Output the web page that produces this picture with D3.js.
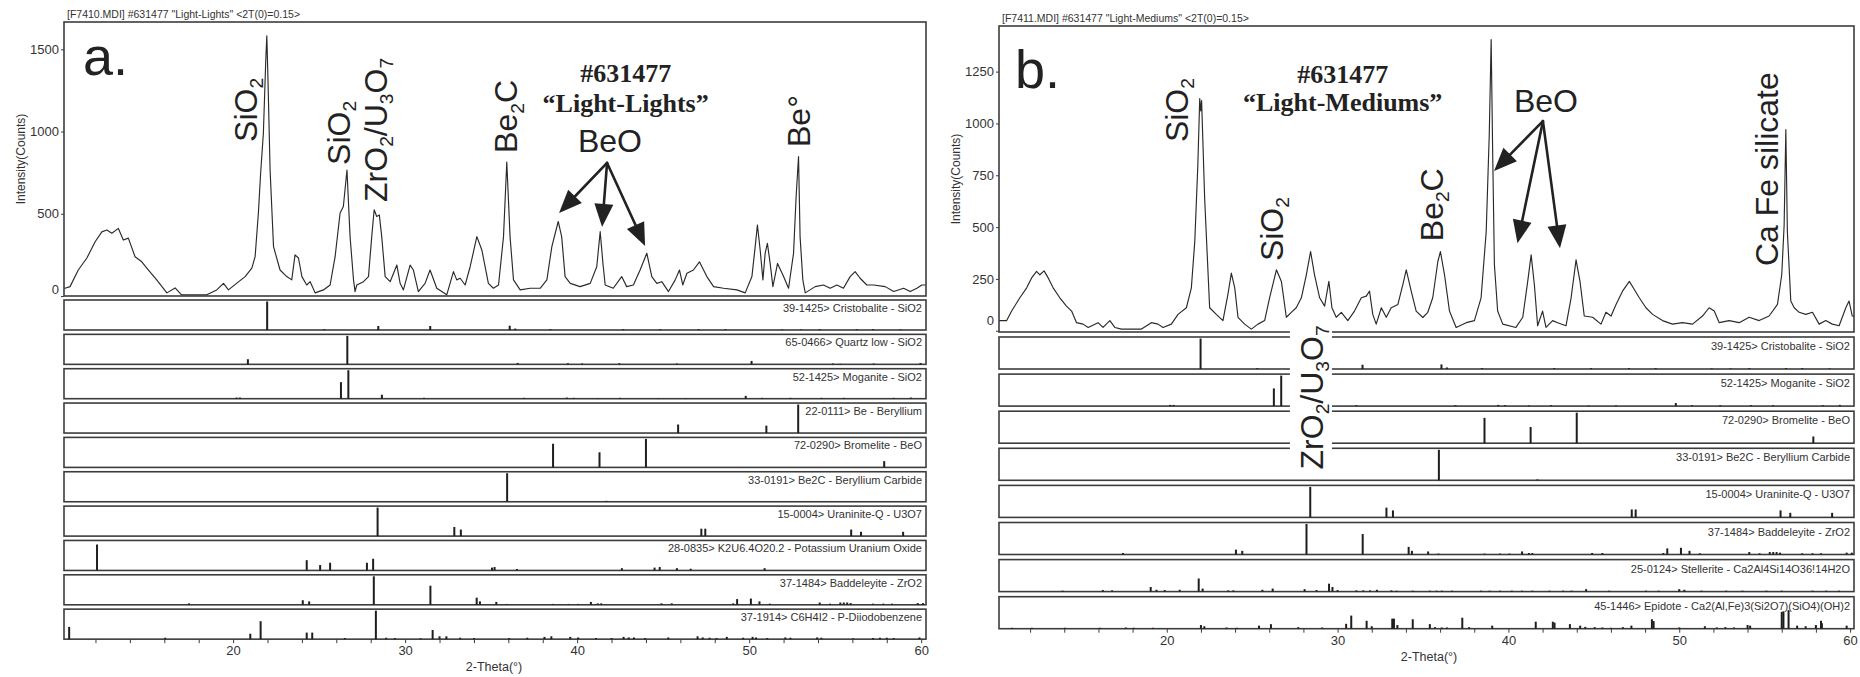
<!DOCTYPE html>
<html>
<head>
<meta charset="utf-8">
<script src="https://cdn.jsdelivr.net/npm/d3@7"></script>
<style>
  body { margin: 0; background: #ffffff; }
  svg { display: block; }
</style>
</head>
<body>
<svg id="fig" width="1860" height="677"></svg>
<script>
// ---------------------------------------------------------------------------
// Measured XRD scans: [2-theta (deg), intensity (counts)]
// ---------------------------------------------------------------------------
const lightLightsScan = [
  [10.17,48],[10.23,47],[10.52,57],[11.0,158],[11.5,231],[11.98,330],[12.37,390],[12.66,401],[12.95,382],
  [13.33,411],[13.62,340],[13.91,352],[14.3,239],[14.69,208],[15.08,158],[15.56,98],[16.15,19],[16.63,49],
  [17.0,7],[18.47,7],[19.05,37],[19.44,77],[19.73,37],[20.2,77],[20.7,118],[21.09,170],[21.28,239],
  [21.47,505],[21.6,745],[21.76,990],[21.9,1435],[21.96,1582],[22.02,1348],[22.15,767],[22.35,300],
  [22.73,158],[23.12,118],[23.41,98],[23.6,250],[23.8,231],[24.0,118],[24.28,67],[24.48,87],[24.77,19],
  [25.25,37],[25.64,67],[25.93,239],[26.22,505],[26.41,544],[26.62,766],[26.8,361],[27.0,98],[27.09,27],
  [27.19,67],[27.58,87],[27.87,118],[28.06,361],[28.2,524],[28.35,483],[28.5,493],[28.64,361],[28.84,118],
  [29.13,87],[29.52,188],[29.71,77],[29.9,37],[30.29,188],[30.48,158],[30.77,27],[31.16,77],[31.45,158],
  [31.84,47],[32.42,7],[32.81,148],[33.0,98],[33.2,108],[33.49,67],[33.78,178],[34.17,361],[34.46,280],
  [34.84,77],[35.13,47],[35.43,67],[35.72,361],[35.91,815],[36.1,361],[36.3,98],[36.69,37],[37.27,47],
  [37.85,47],[38.24,98],[38.53,300],[38.9,453],[39.1,361],[39.3,118],[39.6,77],[40.17,57],[40.76,77],
  [41.14,178],[41.34,391],[41.5,198],[41.63,67],[42.1,47],[42.59,118],[42.88,57],[43.27,67],[43.66,158],
  [44.05,260],[44.34,118],[44.63,77],[44.92,87],[45.31,27],[45.7,98],[45.95,158],[46.14,67],[46.38,138],
  [46.76,158],[47.11,208],[47.54,118],[47.93,57],[48.51,47],[49.29,37],[49.77,19],[50.16,118],[50.35,300],
  [50.48,432],[50.64,280],[50.8,98],[50.93,260],[51.06,320],[51.22,198],[51.38,57],[51.65,198],[52.0,118],
  [52.29,47],[52.58,260],[52.73,604],[52.87,848],[52.96,361],[53.12,98],[53.26,19],[53.84,57],[54.32,67],
  [54.71,47],[55.1,67],[55.48,47],[55.87,118],[56.16,148],[56.45,108],[56.84,67],[57.23,67],[57.91,57],
  [58.4,27],[58.98,47],[59.36,27],[59.75,47],[60.04,67],[60.28,67]
];

const lightMediumsScan = [
  [10.18,49],[10.63,49],[10.92,95],[11.4,159],[11.8,207],[12.09,255],[12.38,286],[12.57,270],[12.82,289],
  [13.06,255],[13.35,207],[13.74,159],[14.13,119],[14.43,95],[14.72,39],[15.1,32],[15.4,16],[15.98,39],
  [16.27,16],[16.67,49],[16.96,16],[17.35,8],[18.52,8],[19.1,39],[19.49,32],[19.78,16],[20.27,32],
  [20.66,79],[21.15,111],[21.44,207],[21.64,430],[21.82,800],[21.93,1120],[21.99,1060],[22.04,1110],
  [22.22,637],[22.51,111],[22.9,79],[23.29,49],[23.58,175],[23.78,278],[23.98,207],[24.17,65],[24.56,32],
  [24.95,8],[25.34,32],[25.73,49],[26.02,159],[26.42,294],[26.71,238],[27.0,65],[27.29,89],[27.58,111],
  [27.88,159],[28.17,270],[28.42,382],[28.65,270],[28.95,159],[29.24,119],[29.49,238],[29.67,111],
  [29.92,65],[30.22,89],[30.6,49],[30.99,95],[31.39,159],[31.68,167],[31.87,191],[32.06,79],[32.26,32],
  [32.56,111],[32.85,65],[33.14,111],[33.53,127],[33.82,222],[34.02,294],[34.31,191],[34.6,95],[34.99,64],
  [35.28,89],[35.57,159],[35.87,334],[36.02,382],[36.26,270],[36.55,95],[36.94,16],[37.53,39],[38.01,49],
  [38.4,159],[38.7,478],[38.88,950],[38.99,1405],[39.08,850],[39.18,318],[39.37,95],[39.67,32],[40.44,16],
  [40.84,65],[41.13,238],[41.33,366],[41.52,222],[41.71,24],[42.0,95],[42.2,16],[42.59,49],[42.88,39],
  [43.37,24],[43.67,159],[43.96,342],[44.19,238],[44.44,71],[44.93,65],[45.42,32],[45.71,89],[46.01,71],
  [46.3,127],[46.68,191],[47.08,238],[47.37,199],[47.66,159],[48.05,111],[48.44,79],[49.02,49],[49.61,32],
  [50.19,39],[50.78,32],[51.36,71],[51.75,111],[52.05,95],[52.34,39],[52.92,49],[53.51,39],[54.09,65],
  [54.68,49],[55.26,71],[55.75,127],[56.0,270],[56.14,509],[56.24,970],[56.33,478],[56.53,143],[56.73,111],
  [57.02,89],[57.41,79],[57.8,89],[58.19,32],[58.58,49],[58.96,32],[59.36,24],[59.75,111],[59.94,143],
  [60.13,71],[60.23,69]
];

// ---------------------------------------------------------------------------
// Reference powder-diffraction cards: [2-theta (deg), relative intensity (%)]
// ---------------------------------------------------------------------------
const cristobalite = [[21.98,100],[25.3,3],[28.44,14],[31.46,14],[36.08,15],[36.4,5],[38.45,3],[42.68,3],
  [44.83,3],[47.06,3],[48.62,3],[51.9,2],[53.0,2],[54.1,3],[56.25,3],[57.2,3],[58.8,2]];
const quartzLow = [[20.86,18],[26.64,100],[36.54,5],[39.46,4],[40.29,3],[42.45,4],[45.79,3],[50.14,12],
  [54.87,3],[55.3,2],[57.24,3],[59.96,5]];
const moganite = [[20.2,4],[20.4,4],[26.27,58],[26.7,100],[28.65,14],[31.1,3],[36.9,3],[39.4,4],[39.8,3],
  [41.2,2],[42.5,3],[44.7,2],[46.3,2],[49.8,10],[50.75,3],[52.4,3],[54.2,3],[55.5,3],[58.4,3],[59.4,4]];
const beryllium = [[45.87,30],[51.0,26],[52.85,100]];
const bromelite = [[38.6,83],[41.3,53],[44.0,100],[57.85,22]];
const berylliumCarbide = [[35.93,100],[41.7,3]];
const uraninite = [[28.4,100],[32.86,32],[33.24,23],[47.22,26],[47.45,26],[55.93,23],[56.5,15],[58.95,15]];
const potassiumUraniumOxide = [[12.09,91],[24.28,36],[25.06,19],[25.64,27],[27.78,27],[28.14,41],[35.05,10],
  [35.2,12],[36.5,5],[42.6,8],[44.5,10],[44.8,12],[45.8,8],[46.6,6],[50.9,8]];
const baddeleyite = [[17.44,5],[24.05,16],[24.42,12],[28.18,100],[31.47,67],[34.16,25],[34.35,12],[35.3,10],
  [35.9,3],[38.6,3],[39.5,3],[40.06,3],[40.8,10],[41.2,5],[41.4,5],[44.9,5],[45.5,5],[49.07,5],[49.3,20],
  [50.1,22],[50.6,12],[51.2,4],[54.1,8],[54.7,4],[55.3,8],[55.5,8],[55.7,8],[55.9,6],[57.2,4],[57.8,4],
  [58.3,4],[59.8,6],[60.1,6]];
const diiodobenzene = [[10.47,43],[16.05,5],[21.0,19],[21.6,63],[24.28,23],[24.6,23],[26.5,4],[28.3,100],
  [28.9,5],[29.4,4],[30.9,3],[31.6,32],[32.0,10],[32.4,10],[33.2,5],[34.0,4],[36.05,4],[37.1,5],[38.1,8],
  [38.5,10],[39.6,8],[40.06,6],[41.1,4],[42.0,4],[42.7,8],[43.0,6],[43.3,6],[43.95,4],[45.3,6],[47.0,10],
  [47.3,6],[47.7,5],[48.1,4],[48.7,8],[49.65,5],[50.2,8],[50.4,6],[51.05,4],[52.1,6],[52.4,5],[53.95,6],
  [54.2,5],[56.05,3],[57.2,4],[57.6,5],[58.0,5],[58.4,4],[59.9,6]];
const stellerite = [[13.9,3],[16.26,5],[16.8,4],[19.06,15],[19.4,6],[19.88,5],[20.76,6],[21.87,43],[22.1,10],
  [23.6,4],[23.9,4],[25.6,6],[26.2,10],[28.07,8],[28.77,5],[29.5,26],[29.7,15],[30.0,5],[31.1,4],[31.5,4],
  [31.9,4],[32.3,6],[33.15,4],[33.45,3],[34.4,3],[35.4,3],[35.8,3],[36.1,3],[36.7,3],[38.4,3],[38.9,3],
  [39.5,3],[40.2,3],[40.8,3],[41.4,3],[42.4,3],[43.2,3],[43.7,3],[44.55,8],[45.9,3],[48.05,3],[48.8,3],
  [50.0,8],[50.3,6],[51.3,3],[52.75,3],[53.7,3],[55.1,3],[56.0,3],[57.8,3],[58.6,3],[59.35,3]];
const epidote = [[10.94,3],[12.1,3],[14.04,3],[16.08,3],[17.6,4],[18.07,3],[19.2,3],[22.0,12],[22.2,8],
  [23.5,4],[24.1,3],[25.4,10],[26.1,15],[27.7,5],[29.1,4],[30.5,16],[30.8,43],[31.7,26],[32.0,8],[33.2,33],
  [33.3,33],[33.5,12],[34.4,31],[35.4,15],[35.7,5],[36.1,4],[36.4,4],[37.3,36],[37.7,5],[39.05,10],[41.6,23],
  [42.6,23],[42.7,20],[43.6,15],[44.2,10],[44.5,6],[45.05,5],[45.5,4],[46.0,3],[46.7,5],[47.2,10],[48.4,31],
  [48.5,25],[50.0,4],[51.5,8],[52.2,4],[52.7,5],[53.2,4],[54.0,12],[54.15,10],[56.0,55],[56.1,57],[56.4,61],
  [56.9,10],[57.4,8],[58.0,12],[58.3,26],[58.35,18],[59.8,10]];

const cardLabelsA = [
  "39-1425> Cristobalite - SiO2", "65-0466> Quartz low - SiO2", "52-1425> Moganite - SiO2",
  "22-0111> Be - Beryllium", "72-0290> Bromelite - BeO", "33-0191> Be2C - Beryllium Carbide",
  "15-0004> Uraninite-Q - U3O7", "28-0835> K2U6.4O20.2 - Potassium Uranium Oxide",
  "37-1484> Baddeleyite - ZrO2", "37-1914> C6H4I2 - P-Diiodobenzene"
];
const cardLabelsB = [
  "39-1425> Cristobalite - SiO2", "52-1425> Moganite - SiO2", "72-0290> Bromelite - BeO",
  "33-0191> Be2C - Beryllium Carbide", "15-0004> Uraninite-Q - U3O7", "37-1484> Baddeleyite - ZrO2",
  "25-0124> Stellerite - Ca2Al4Si14O36!14H2O", "45-1446> Epidote - Ca2(Al,Fe)3(Si2O7)(SiO4)(OH)2"
];

// Axis ticks
const thetaTicks = d3.range(12, 61, 2);
const thetaLabels = [20, 30, 40, 50, 60];
const countTicksA = [0, 500, 1000, 1500];
const countTicksB = [0, 250, 500, 750, 1000, 1250];

// ---------------------------------------------------------------------------
// Peak annotations (placed in 2-theta / counts units)
// ---------------------------------------------------------------------------
const peakLabelsA = [
  { parts: [["SiO"], ["2", "sub"]], theta: 21.39, counts: 937 },
  { parts: [["SiO"], ["2", "sub"]], theta: 26.80, counts: 797 },
  { parts: [["ZrO"], ["2", "sub"], ["/U"], ["3", "sub"], ["O"], ["7", "sub"]], theta: 28.95, counts: 572 },
  { parts: [["Be"], ["2", "sub"], ["C"]], theta: 36.51, counts: 870 },
  { parts: [["Be°"]], theta: 53.54, counts: 906 }
];
const peakLabelsB = [
  { parts: [["SiO"], ["2", "sub"]], theta: 21.24, counts: 910 },
  { parts: [["SiO"], ["2", "sub"]], theta: 26.80, counts: 336 },
  { parts: [["Be"], ["2", "sub"], ["C"]], theta: 36.17, counts: 432 },
  { parts: [["Ca Fe silicate"]], theta: 55.78, counts: 312 },
  { parts: [["ZrO"], ["2", "sub"], ["/U"], ["3", "sub"], ["O"], ["7", "sub"]], theta: 29.15, counts: -669,
    knockout: { theta: [27.21, 29.67], counts: [20, -693] } }
];

const panelA = {
  header: "[F7410.MDI] #631477 \"Light-Lights\" <2T(0)=0.15>",
  letter: { text: "a.", theta: 11.27, counts: 1344 },
  sample: { id: "#631477", name: "\u201CLight-Lights\u201D", theta: 42.82, idCounts: 1302, nameCounts: 1119 },
  beo: { theta: 41.91, counts: 876, from: [41.74, 809], to: [[38.95, 505], [41.45, 420], [43.95, 304]] },
  left: 64, right: 926, top: 22, plotBottom: 296,
  xDomain: [10.17, 60.28], yDomain: [0, 1666], countTicks: countTicksA, zeroLift: 7,
  stripTop: 300, stripHeight: 30, stripStep: 34.35, stripLabelDy: 12,
  scan: lightLightsScan,
  cards: [cristobalite, quartzLow, moganite, beryllium, bromelite, berylliumCarbide, uraninite,
          potassiumUraniumOxide, baddeleyite, diiodobenzene],
  cardLabels: cardLabelsA, peakLabels: peakLabelsA
};
const panelB = {
  header: "[F7411.MDI] #631477 \"Light-Mediums\" <2T(0)=0.15>",
  letter: { text: "b.", theta: 11.12, counts: 1169 },
  sample: { id: "#631477", name: "\u201CLight-Mediums\u201D", theta: 30.3, idCounts: 1197, nameCounts: 1058 },
  beo: { theta: 42.2, counts: 1054, from: [42.02, 1011], to: [[39.16, 771], [40.53, 422], [43.02, 398]] },
  left: 999, right: 1854, top: 26, plotBottom: 332,
  xDomain: [10.18, 60.23], yDomain: [-6, 1470], countTicks: countTicksB, zeroLift: 10,
  stripTop: 337, stripHeight: 32, stripStep: 37.1, stripLabelDy: 13,
  scan: lightMediumsScan,
  cards: [cristobalite, moganite, bromelite, berylliumCarbide, uraninite, baddeleyite, stellerite, epidote],
  cardLabels: cardLabelsB, peakLabels: peakLabelsB
};

// ---------------------------------------------------------------------------
const SANS = '"Liberation Sans", Arial, Helvetica, sans-serif';
const SERIF = '"Liberation Serif", "Times New Roman", serif';
const INK = "#222222";
const FRAME = "#3c3c3c";
const svg = d3.select("#fig");

function rotatedLabel(g, x, y, parts, size) {
  const t = g.append("text")
    .attr("transform", `translate(${x},${y}) rotate(-90)`)
    .attr("font-family", SANS).attr("font-size", size).attr("fill", INK);
  let shift = 0;
  parts.forEach(p => {
    const sub = p[1] === "sub";
    const target = sub ? size * 0.2 : 0;
    t.append("tspan")
      .attr("dy", target - shift)
      .attr("font-size", sub ? size * 0.6 : size)
      .text(p[0]);
    shift = target;
  });
}

function arrow(g, x0, y0, x1, y1) {
  const dx = x1 - x0, dy = y1 - y0, len = Math.hypot(dx, dy);
  const ux = dx / len, uy = dy / len, L = 23, W = 9.5;
  const bx = x1 - ux * L, by = y1 - uy * L;
  g.append("line").attr("x1", x0).attr("y1", y0).attr("x2", bx + ux * 3).attr("y2", by + uy * 3)
    .attr("stroke", INK).attr("stroke-width", 2.6).attr("stroke-linecap", "round");
  g.append("path")
    .attr("d", `M${x1},${y1}L${bx - uy * W},${by + ux * W}L${bx + uy * W},${by - ux * W}Z`)
    .attr("fill", INK);
}

function drawPanel(cfg, id) {
  const g = svg.append("g");
  const x = d3.scaleLinear().domain(cfg.xDomain).range([cfg.left, cfg.right]);
  const y = d3.scaleLinear().domain(cfg.yDomain).range([cfg.plotBottom, cfg.top]);

  // header line above the frame
  g.append("text").attr("x", cfg.left + 3).attr("y", cfg.top - 4)
    .attr("font-family", SANS).attr("font-size", 10.5).attr("fill", "#333")
    .text(cfg.header);

  // scan trace
  g.append("clipPath").attr("id", "clip" + id)
    .append("rect").attr("x", cfg.left).attr("y", cfg.top)
    .attr("width", cfg.right - cfg.left).attr("height", cfg.plotBottom - cfg.top);
  g.append("path").datum(cfg.scan)
    .attr("clip-path", `url(#clip${id})`)
    .attr("d", d3.line().x(d => x(d[0])).y(d => y(d[1])))
    .attr("fill", "none").attr("stroke", "#2a2a2a").attr("stroke-width", 1.15)
    .attr("stroke-linejoin", "round");

  // scan frame
  g.append("rect").attr("x", cfg.left).attr("y", cfg.top)
    .attr("width", cfg.right - cfg.left).attr("height", cfg.plotBottom - cfg.top)
    .attr("fill", "none").attr("stroke", FRAME).attr("stroke-width", 1.6);

  // intensity axis
  const yAxis = g.append("g").attr("transform", `translate(${cfg.left},0)`)
    .call(d3.axisLeft(y).tickValues(cfg.countTicks).tickSize(3).tickPadding(2)
      .tickFormat(d3.format("d")));
  yAxis.select(".domain").remove();
  yAxis.selectAll("line").attr("stroke", FRAME);
  yAxis.selectAll("text").attr("font-family", SANS).attr("font-size", 13).attr("fill", "#333")
    .attr("dy", d => d === 0 ? `${0.32 - cfg.zeroLift / 13}em` : "0.32em");

  g.append("text")
    .attr("transform", `translate(${cfg.left - 39},${(cfg.top + cfg.plotBottom) / 2}) rotate(-90)`)
    .attr("text-anchor", "middle").attr("font-family", SANS).attr("font-size", 12).attr("fill", "#333")
    .text("Intensity(Counts)");

  // reference card strips
  cfg.cards.forEach((card, i) => {
    const top = cfg.stripTop + i * cfg.stripStep;
    const bottom = top + cfg.stripHeight;
    const s = d3.scaleLinear().domain([0, 100]).range([bottom, top + 1.5]);
    const strip = g.append("g");
    strip.append("rect").attr("x", cfg.left).attr("y", top)
      .attr("width", cfg.right - cfg.left).attr("height", cfg.stripHeight)
      .attr("fill", "#fff").attr("stroke", FRAME).attr("stroke-width", 1.6);
    strip.selectAll("line.stick").data(card).join("line").attr("class", "stick")
      .attr("x1", d => x(d[0])).attr("x2", d => x(d[0]))
      .attr("y1", bottom).attr("y2", d => s(d[1]))
      .attr("stroke", "#1e1e1e").attr("stroke-width", 2);
    strip.append("text").attr("x", cfg.right - 4).attr("y", top + cfg.stripLabelDy)
      .attr("text-anchor", "end").attr("font-family", SANS).attr("font-size", 11).attr("fill", "#333")
      .text(cfg.cardLabels[i]);
  });

  // 2-theta axis below the last strip
  const last = cfg.stripTop + (cfg.cards.length - 1) * cfg.stripStep + cfg.stripHeight;
  const xAxis = g.append("g").attr("transform", `translate(0,${last})`)
    .call(d3.axisBottom(x).tickValues(thetaTicks).tickSize(4).tickPadding(3)
      .tickFormat(d => thetaLabels.includes(d) ? d : ""));
  xAxis.select(".domain").remove();
  xAxis.selectAll("line").attr("stroke", FRAME);
  xAxis.selectAll("text").attr("font-family", SANS).attr("font-size", 13).attr("fill", "#333");
  g.append("text").attr("x", cfg.left + 430).attr("y", last + 32)
    .attr("text-anchor", "middle").attr("font-family", SANS).attr("font-size", 12.5).attr("fill", "#333")
    .text("2-Theta(\u00B0)");

  // panel letter
  g.append("text").attr("x", x(cfg.letter.theta)).attr("y", y(cfg.letter.counts))
    .attr("font-family", SANS).attr("font-size", 54).attr("fill", INK).text(cfg.letter.text);

  // sample caption
  g.append("text").attr("x", x(cfg.sample.theta)).attr("y", y(cfg.sample.idCounts))
    .attr("text-anchor", "middle").attr("font-family", SERIF).attr("font-weight", "bold")
    .attr("font-size", 26).attr("fill", INK).text(cfg.sample.id);
  g.append("text").attr("x", x(cfg.sample.theta)).attr("y", y(cfg.sample.nameCounts))
    .attr("text-anchor", "middle").attr("font-family", SERIF).attr("font-weight", "bold")
    .attr("font-size", 26).attr("fill", INK).text(cfg.sample.name);

  // phase labels on peaks
  cfg.peakLabels.forEach(p => {
    if (p.knockout) {
      const x0 = x(p.knockout.theta[0]), x1 = x(p.knockout.theta[1]);
      const y0 = y(p.knockout.counts[0]), y1 = y(p.knockout.counts[1]);
      g.append("rect").attr("x", x0).attr("y", y0).attr("width", x1 - x0).attr("height", y1 - y0)
        .attr("fill", "#fff");
    }
    rotatedLabel(g, x(p.theta), y(p.counts), p.parts, 32);
  });

  // BeO callout with arrows
  g.append("text").attr("x", x(cfg.beo.theta)).attr("y", y(cfg.beo.counts))
    .attr("text-anchor", "middle").attr("font-family", SANS).attr("font-size", 32).attr("fill", INK)
    .text("BeO");
  cfg.beo.to.forEach(t => arrow(g, x(cfg.beo.from[0]), y(cfg.beo.from[1]), x(t[0]), y(t[1])));
}

drawPanel(panelA, "A");
drawPanel(panelB, "B");
</script>
</body>
</html>
